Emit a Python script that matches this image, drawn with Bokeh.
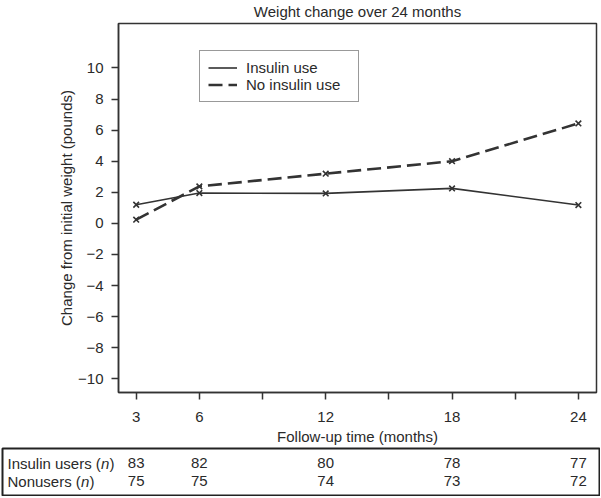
from bokeh.plotting import figure
from bokeh.models import (ColumnDataSource, FixedTicker, Range1d, Legend, LegendItem)
from bokeh.layouts import column
from bokeh.embed import file_html
from bokeh.resources import INLINE
from bokeh.core.properties import value

# ---- data ----
months = [3, 6, 12, 18, 24]
insulin_use = [1.2, 1.95, 1.93, 2.25, 1.18]
no_insulin_use = [0.24, 2.38, 3.2, 4.0, 6.43]
insulin_users_n = [83, 82, 80, 78, 77]
nonusers_n = [75, 75, 74, 73, 72]
x_ticks = [3, 6, 9, 12, 15, 18, 21, 24]
x_labeled = [3, 6, 12, 18, 24]
y_ticks = [-10, -8, -6, -4, -2, 0, 2, 4, 6, 8, 10]
row_prefix = ["Insulin users (", "Nonusers ("]

FONT = "Liberation Sans"
FS = "15px"
DARK = "#333333"
TXT = "#2a2a2a"

W = 600
FL, FR, FT, FB = 118, 596, 22, 393          # frame edges in canvas pixels
H1 = 447
X0, X1 = 2.16, 24.86
Y0, Y1 = -10.88, 12.86

p = figure(width=W, height=H1, output_backend="svg", toolbar_location=None,
           x_range=Range1d(X0, X1), y_range=Range1d(Y0, Y1),
           min_border_left=FL, min_border_right=W - FR, min_border_top=FT,
           min_border_bottom=H1 - FB)
p.title.text = "Weight change over 24 months"
p.title.align = "center"
p.title.vertical_align = "top"
p.title.text_font = FONT
p.title.text_font_size = FS
p.title.text_font_style = "normal"
p.title.text_color = TXT
p.title.standoff = 4
p.background_fill_color = "white"
p.border_fill_color = "white"
p.outline_line_color = DARK
p.outline_line_width = 1.5
p.xgrid.visible = False
p.ygrid.visible = False

src = ColumnDataSource(dict(x=months, a=insulin_use, b=no_insulin_use))
r1 = p.line("x", "a", source=src, line_color=DARK, line_width=1.6)
p.scatter("x", "a", source=src, marker="x", size=8, line_color=DARK, line_width=1.6)
r2 = p.line("x", "b", source=src, line_color=DARK, line_width=2.6, line_dash="14 6")
p.scatter("x", "b", source=src, marker="x", size=8, line_color=DARK, line_width=1.6)

for ax in (p.xaxis[0], p.yaxis[0]):
    ax.axis_line_color = DARK
    ax.axis_line_width = 1.5
    ax.major_tick_line_color = DARK
    ax.major_tick_line_width = 1.5
    ax.major_tick_in = 0
    ax.major_tick_out = 7
    ax.minor_tick_line_color = None
    ax.major_label_text_font = FONT
    ax.major_label_text_font_size = FS
    ax.major_label_text_color = TXT
    ax.axis_label_text_font = FONT
    ax.axis_label_text_font_size = FS
    ax.axis_label_text_font_style = "normal"
    ax.axis_label_text_color = TXT

p.xaxis.ticker = FixedTicker(ticks=x_ticks)
p.xaxis.major_label_overrides = {t: (str(t) if t in x_labeled else "") for t in x_ticks}
p.xaxis.major_label_standoff = 12
p.xaxis.axis_label = "Follow-up time (months)"
p.xaxis.axis_label_standoff = 3

p.yaxis.ticker = FixedTicker(ticks=y_ticks)
p.yaxis.major_label_overrides = {t: str(t).replace("-", "\u2212") for t in y_ticks}
p.yaxis.major_label_standoff = 8
p.yaxis.axis_label = "Change from initial weight (pounds)"
p.yaxis.axis_label_standoff = 0

legend = Legend(items=[LegendItem(label="Insulin use", renderers=[r1]),
                       LegendItem(label="No insulin use", renderers=[r2])],
                location=(81, 290), padding=8, spacing=0, margin=0,
                glyph_width=29, glyph_height=17, label_height=17,
                label_width=104, label_standoff=9,
                label_text_font=FONT, label_text_font_size=FS,
                label_text_color=TXT,
                border_line_color=DARK, border_line_width=1.5,
                background_fill_color="white", background_fill_alpha=1)
p.add_layout(legend, "center")

# ---- table of n ----
H2 = 49
xs = (X1 - X0) / (FR - FL)
t_start = X0 - (FL - 2) * xs
t_end = X1 + (599 - FR) * xs
t = figure(width=W, height=H2, output_backend="svg", toolbar_location=None,
           x_range=Range1d(t_start, t_end), y_range=Range1d(1.78, -0.833),
           min_border_left=2, min_border_right=W - 599, min_border_top=1,
           min_border_bottom=1, x_axis_location=None, y_axis_location=None)
t.xgrid.visible = False
t.ygrid.visible = False
t.outline_line_color = "#222222"
t.outline_line_width = 2
t.border_fill_color = "white"

tsrc = ColumnDataSource(dict(x=months + months,
                             y=[0] * len(months) + [1] * len(months),
                             s=[str(v) for v in insulin_users_n + nonusers_n]))
t.text("x", "y", text="s", source=tsrc, text_align="center", text_baseline="middle",
       text_font=value(FONT), text_font_size=FS, text_color=TXT)

lx = t_start + 5 * xs
lsrc = ColumnDataSource(dict(x=[lx, lx], y=[0, 1], s=row_prefix))
t.text("x", "y", text="s", source=lsrc, text_align="left", text_baseline="middle",
       text_font=value(FONT), text_font_size=FS, text_color=TXT)
pre_w = [93.4, 73.4]
for i, w in enumerate(pre_w):
    t.text(x=[lx], y=[i], text=["n"], x_offset=w, text_align="left", text_baseline="middle",
           text_font=value(FONT), text_font_size=FS, text_font_style="italic", text_color=TXT)
    t.text(x=[lx], y=[i], text=[")"], x_offset=w + 8.6, text_align="left", text_baseline="middle",
           text_font=value(FONT), text_font_size=FS, text_color=TXT)

layout = column(p, column(t), spacing=0)
open("out.html", "w").write(file_html(layout, INLINE))
